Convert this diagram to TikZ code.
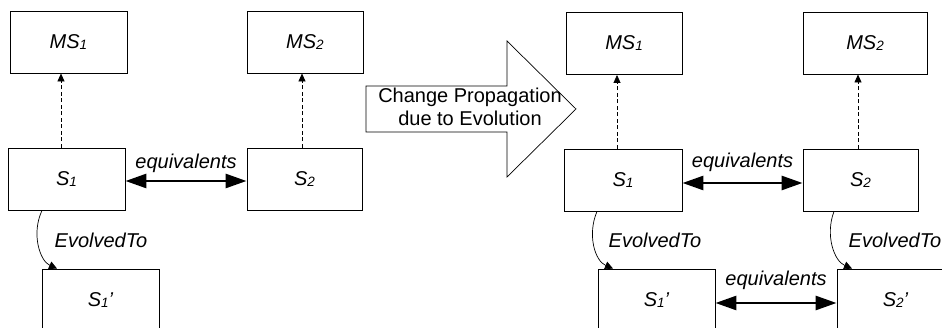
\documentclass[tikz,border=0pt]{standalone}
\usepackage{fontspec}
\setmainfont{Liberation Sans}
\usetikzlibrary{arrows.meta}
% small lowered index, as in S1, MS2
\newcommand{\lowsub}[1]{\raisebox{-1pt}{\fontsize{13.5}{14}\selectfont #1}}
% straight (slanted) prime mark
\newcommand{\stprime}{\char"27\relax}
\begin{document}
\begin{tikzpicture}[x=1pt,y=-1pt,
  box/.style={draw, line width=0.9pt, inner sep=0pt, minimum height=62pt,
              font=\fontsize{20}{24}\selectfont\itshape},
  lbl/.style={inner sep=0pt, font=\fontsize{20}{24}\selectfont\itshape},
  equiv/.style={line width=2.8pt,
                {Triangle[length=21pt,width=14pt]}-{Triangle[length=21pt,width=14pt]}},
  metaof/.style={line width=0.7pt, dash pattern=on 4pt off 2.5pt,
                 -{Triangle[length=8pt,width=7pt]}},
  evolves/.style={line width=0.7pt, -{Triangle[length=8pt,width=8pt]}}
]
\useasboundingbox (0,0) rectangle (942,328);
\clip (0,0) rectangle (942,328);

% ---- before the change ----
\node[box, minimum width=117pt] (MSa) at (68.5,42)  {MS\lowsub{1}};
\node[box, minimum width=117pt] (Sa)  at (66.5,179) {S\lowsub{1}};
\node[box, minimum width=116pt] (MSb) at (305,42)   {MS\lowsub{2}};
\node[box, minimum width=115pt] (Sb)  at (304.5,179){S\lowsub{2}};
\node[box, minimum width=117pt] (Spa) at (100.5,300){S\lowsub{1}\stprime};

\draw[metaof] ([xshift=-5.5pt]Sa.north) -- ([xshift=-7.5pt]MSa.south);
\draw[metaof] ([xshift=-2.5pt]Sb.north) -- ([xshift=-3pt]MSb.south);
\draw[equiv] ([yshift=-2pt]Sa.east) -- node[lbl, above=7pt] (eqa) {equivalents} ([yshift=-2pt]Sb.west);
\draw[evolves] ([xshift=-24.5pt]Sa.south) .. controls (31,234) and (40,261) .. ([xshift=-43.5pt]Spa.north);
\node[lbl] (eva) at (101,240) {EvolvedTo};

% ---- propagation arrow ----
\draw[line width=0.7pt] (366,86) -- (507,86) -- (507,41) -- (576,109)
      -- (507,177) -- (507,132) -- (366,132) -- cycle;
\node[inner sep=0pt, align=center, font=\fontsize{20}{23}\selectfont] (prop) at (470,107)
      {Change Propagation\\due to Evolution};

% ---- after the change ----
\node[box, minimum width=116pt] (MSc) at (624,43.5) {MS\lowsub{1}};
\node[box, minimum width=118pt] (Sc)  at (623,180)  {S\lowsub{1}};
\node[box, minimum width=124pt] (MSd) at (865,43)   {MS\lowsub{2}};
\node[box, minimum width=115pt] (Sd)  at (860.5,180){S\lowsub{2}};
\node[box, minimum width=117pt] (Spc) at (656.5,300){S\lowsub{1}\stprime};
\node[box, minimum width=117pt] (Spd) at (895.5,300){S\lowsub{2}\stprime};

\draw[metaof] ([xshift=-6pt]Sc.north) -- ([xshift=-7pt]MSc.south);
\draw[metaof] ([xshift=-2.5pt]Sd.north) -- ([xshift=-7pt]MSd.south);
\draw[equiv] ([yshift=-3pt]Sc.east) -- node[lbl, above=10pt] (eqc) {equivalents} ([yshift=-3pt]Sd.west);
\draw[equiv] ([yshift=-3pt]Spc.east) -- node[lbl, above=12pt] (eqd) {equivalents} ([yshift=-3pt]Spd.west);
\draw[evolves] ([xshift=-26pt]Sc.south) .. controls (587,235) and (595,261) .. ([xshift=-43.5pt]Spc.north);
\draw[evolves] ([xshift=-26.5pt]Sd.south) .. controls (825,235) and (834,261) .. ([xshift=-43.5pt]Spd.north);
\node[lbl] (evc) at (655,240) {EvolvedTo};
\node[lbl] (evd) at (895,240) {EvolvedTo};
\end{tikzpicture}
\end{document}
